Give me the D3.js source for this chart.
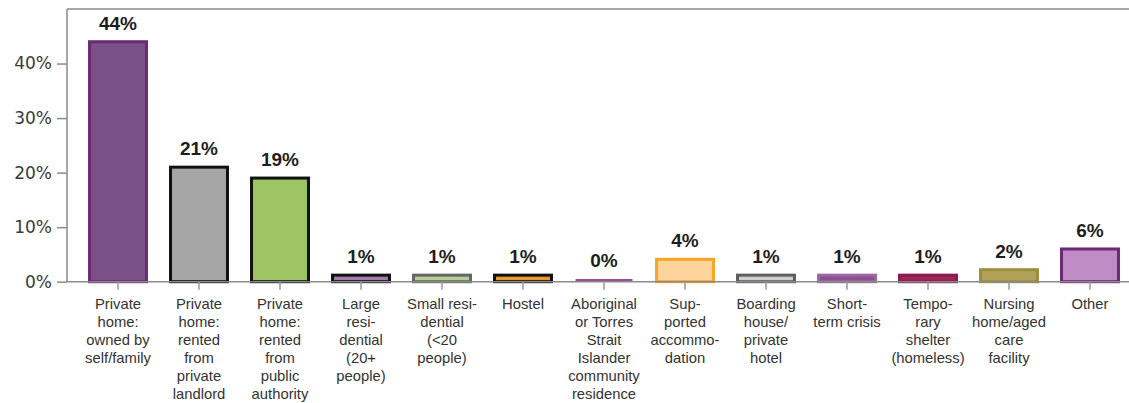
<!DOCTYPE html>
<html>
<head>
<meta charset="utf-8">
<script src="https://cdn.jsdelivr.net/npm/d3@7"></script>
<style>
  html, body { margin: 0; padding: 0; background: #fff; }
  svg { display: block; }
</style>
</head>
<body>
<svg id="chart" width="1129" height="403"></svg>
<script>
// ---- data ----
const categories = [
  "Private\nhome:\nowned by\nself/family",
  "Private\nhome:\nrented\nfrom\nprivate\nlandlord",
  "Private\nhome:\nrented\nfrom\npublic\nauthority",
  "Large\nresi-\ndential\n(20+\npeople)",
  "Small resi-\ndential\n(<20\npeople)",
  "Hostel",
  "Aboriginal\nor Torres\nStrait\nIslander\ncommunity\nresidence",
  "Sup-\nported\naccommo-\ndation",
  "Boarding\nhouse/\nprivate\nhotel",
  "Short-\nterm crisis",
  "Tempo-\nrary\nshelter\n(homeless)",
  "Nursing\nhome/aged\ncare\nfacility",
  "Other"
];
const values = [44, 21, 19, 1.2, 1.2, 1.2, 0.5, 4.1, 1.2, 1.2, 1.2, 2.2, 6.0];
const valueLabels = ["44%", "21%", "19%", "1%", "1%", "1%", "0%", "4%", "1%", "1%", "1%", "2%", "6%"];
const yTicks = [0, 10, 20, 30, 40];
const fills   = ["#7b4f87", "#a6a6a6", "#9dc563", "#a27aae", "#b3d193", "#e89a2e", "#a04d99", "#fdd49c", "#cfcfcf", "#8e4f8d", "#a0245a", "#b0a358", "#bf8cc6"];
const strokes = ["#6a2a74", "#111111", "#111111", "#111111", "#666666", "#111111", "#a04d99", "#f6a623", "#5e5e5e", "#9b66a3", "#8c1a4c", "#9b8d3e", "#6a2a74"];

// ---- layout ----
const svg = d3.select("#chart");
const mLeft = 67, mTop = 9, mBottom = 281.7, mRight = 1129;

const x = d3.scaleBand()
  .domain(categories)
  .range([77.5, 1130.5])
  .paddingInner(0.26)
  .paddingOuter(0.13);

const y = d3.scaleLinear().domain([0, 50]).range([mBottom, mTop]);

// frame: top line
svg.append("line").attr("x1", mLeft).attr("x2", mRight).attr("y1", mTop).attr("y2", mTop)
  .attr("stroke", "#8a8a8a").attr("stroke-width", 1.5);

// y axis
const yAxis = svg.append("g").attr("transform", `translate(${mLeft},0)`)
  .call(d3.axisLeft(y).tickValues(yTicks).tickFormat(d => d + "%").tickSize(10).tickPadding(5));
yAxis.select(".domain").attr("stroke", "#8a8a8a").attr("stroke-width", 1.5)
  .attr("d", `M0,${mTop}V${mBottom}`);
yAxis.selectAll(".tick line").attr("stroke", "#8a8a8a").attr("stroke-width", 1.5);
yAxis.selectAll(".tick text")
  .attr("fill", "#3a3a3a")
  .style("font-family", "'DejaVu Sans', sans-serif")
  .style("font-size", "17px");

// bars
const sw = 3;
svg.append("g").selectAll("rect").data(values).join("rect")
  .attr("x", (d, i) => x(categories[i]) + sw / 2)
  .attr("width", x.bandwidth() - sw)
  .attr("y", d => y(d))
  .attr("height", d => Math.max(0, mBottom - y(d)))
  .attr("fill", (d, i) => fills[i])
  .attr("stroke", (d, i) => strokes[i])
  .attr("stroke-width", (d, i) => i === 6 ? 0 : sw);

// x axis
const xAxis = svg.append("g").attr("transform", `translate(0,${mBottom})`)
  .call(d3.axisBottom(x).tickSize(8).tickFormat(""));
xAxis.select(".domain").attr("stroke", "#8a8a8a").attr("stroke-width", 1.5)
  .attr("d", `M${mLeft},0H${mRight}`);
xAxis.selectAll(".tick line").attr("stroke", "#9a9a9a").attr("stroke-width", 1.5);

// category labels (multi-line)
const labelG = svg.append("g");
categories.forEach(c => {
  const cx = x(c) + x.bandwidth() / 2;
  const t = labelG.append("text")
    .attr("x", cx)
    .attr("y", 309)
    .attr("text-anchor", "middle")
    .attr("fill", "#333")
    .style("font-family", "'Liberation Sans', Arial, sans-serif")
    .style("font-size", "14.8px");
  c.split("\n").forEach((line, k) => {
    t.append("tspan").attr("x", cx).attr("dy", k === 0 ? 0 : 18).text(line);
  });
});

// value labels
svg.append("g").selectAll("text").data(values).join("text")
  .attr("x", (d, i) => x(categories[i]) + x.bandwidth() / 2)
  .attr("y", d => y(d) - 12)
  .attr("text-anchor", "middle")
  .attr("fill", "#1e1e1e")
  .style("font-family", "'Liberation Sans', Arial, sans-serif")
  .style("font-weight", "bold")
  .style("font-size", "19px")
  .text((d, i) => valueLabels[i]);
</script>
</body>
</html>
